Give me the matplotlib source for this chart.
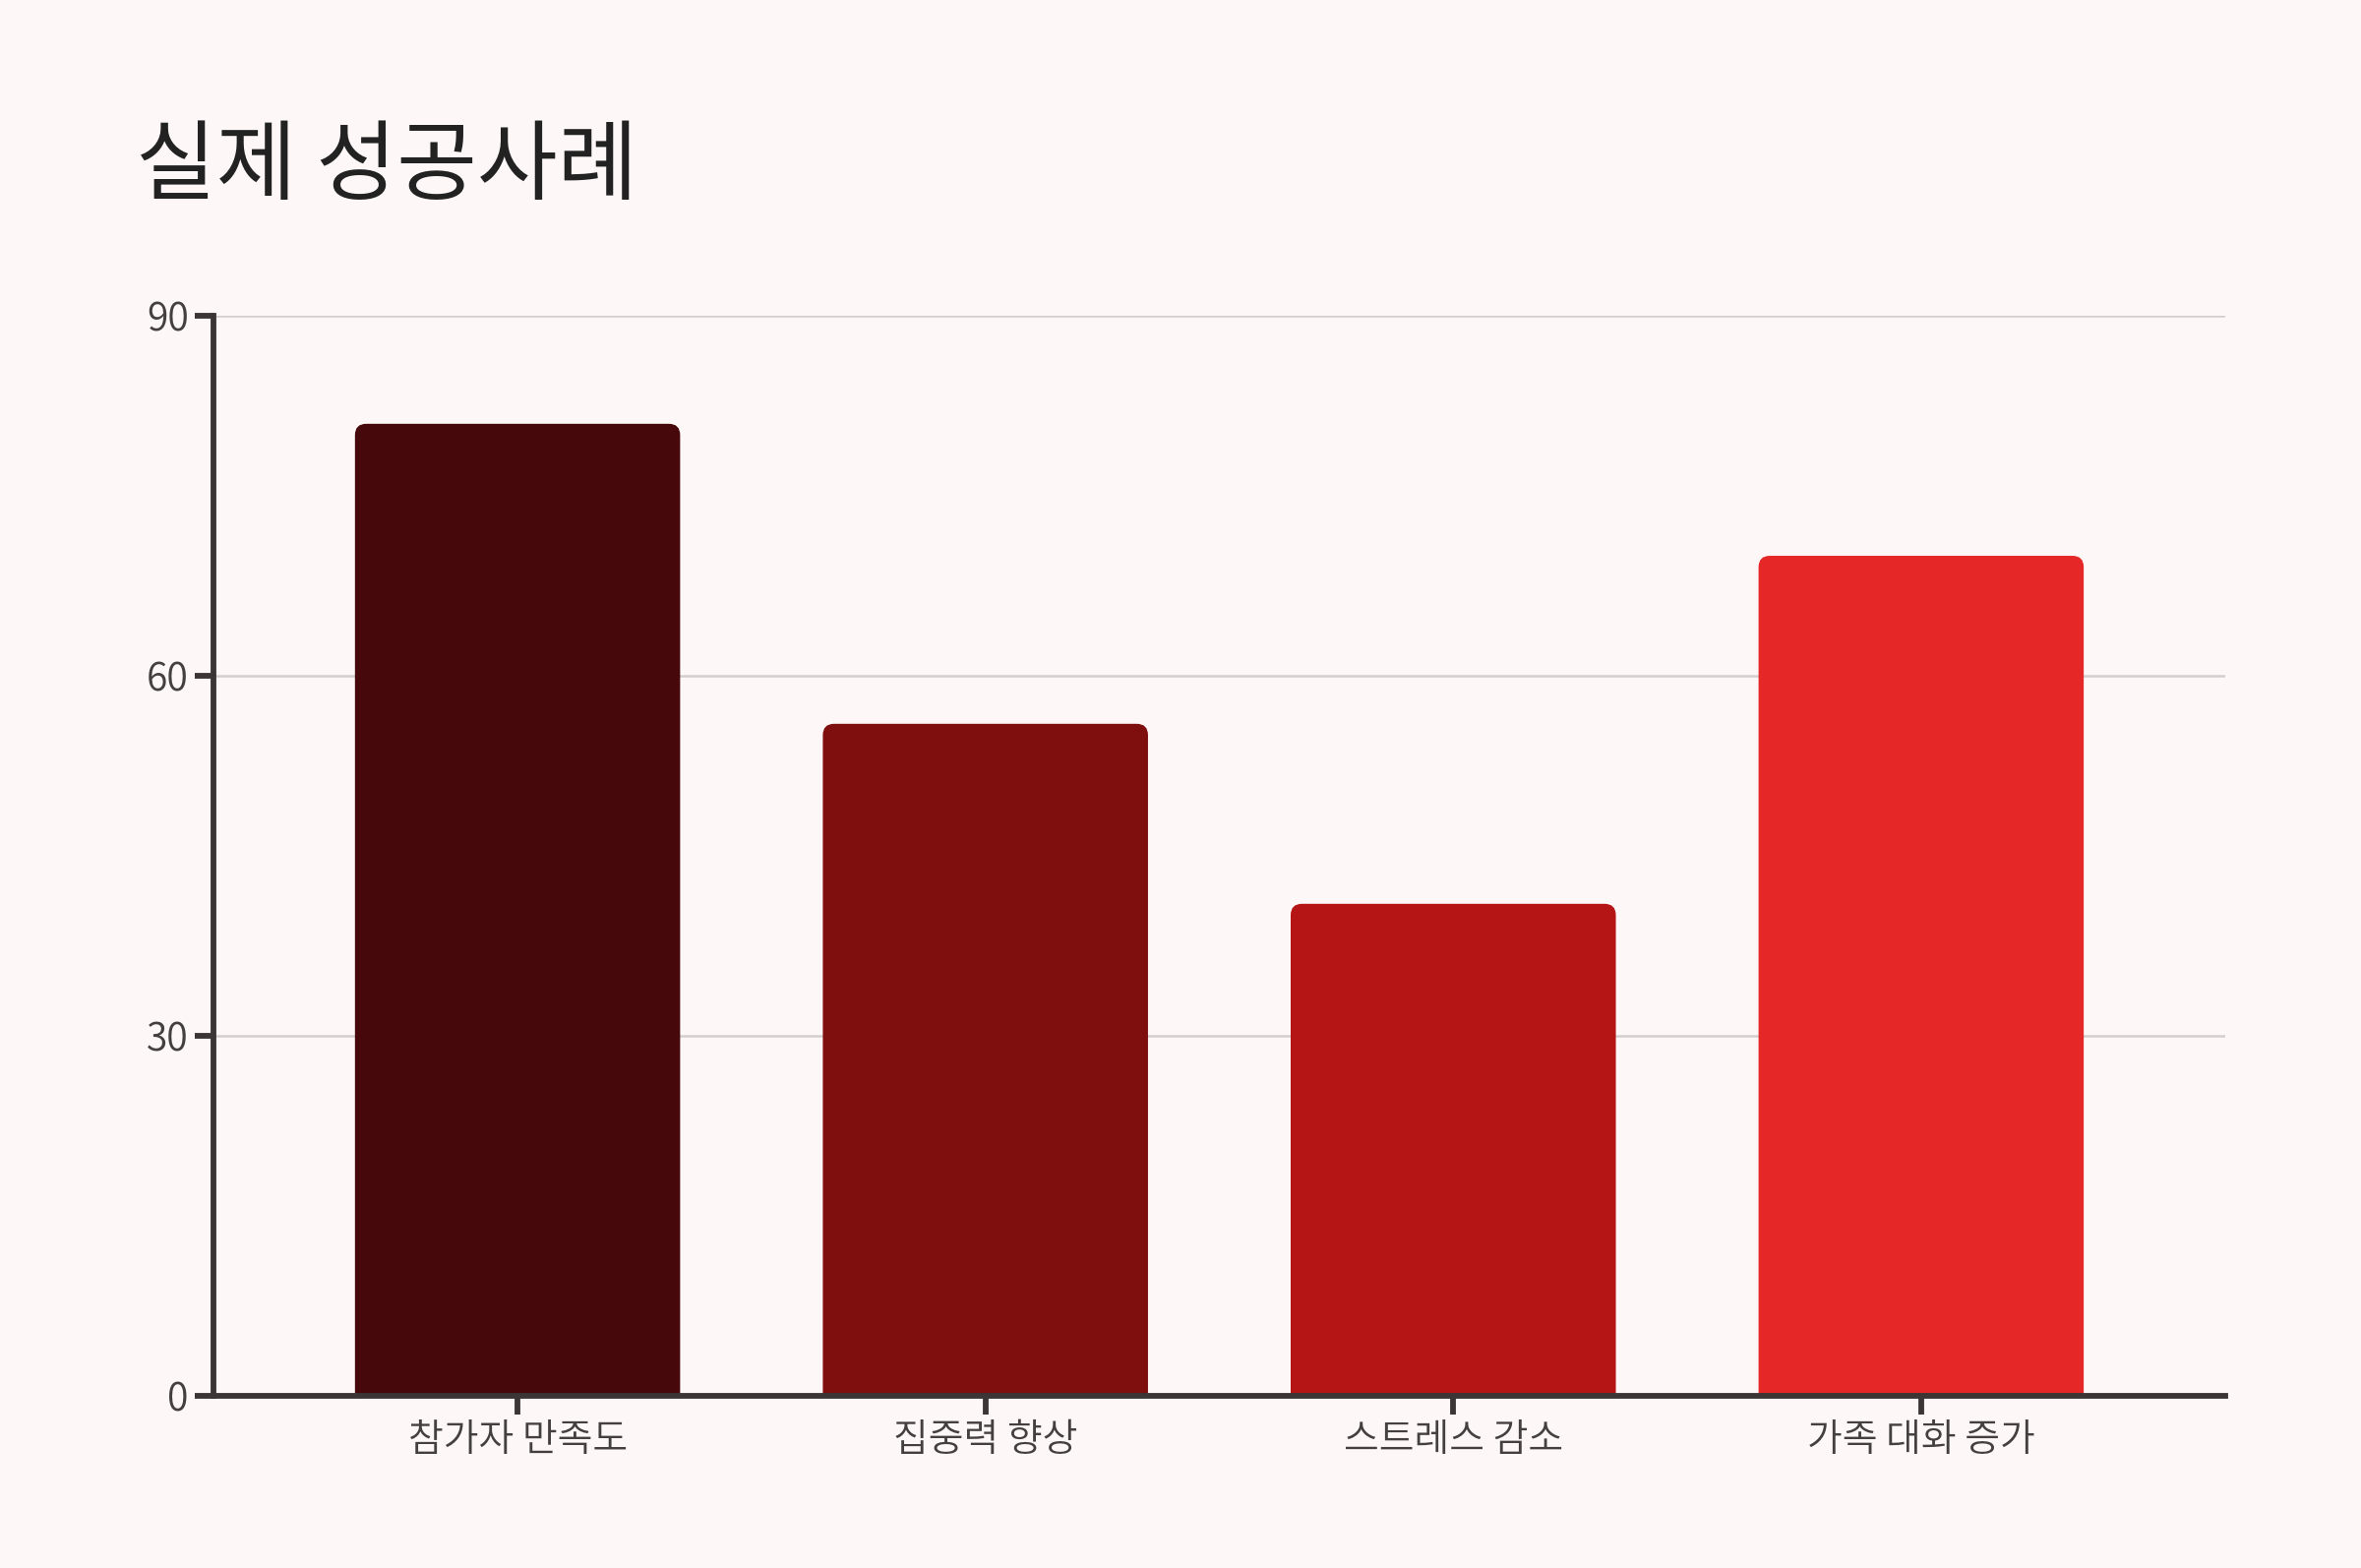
import matplotlib
matplotlib.use("Agg")
import matplotlib.pyplot as plt
from matplotlib.patches import FancyBboxPatch
from matplotlib import font_manager as fm

plt.rcParams['font.family'] = ['Noto Sans CJK KR', 'DejaVu Sans']

categories = ["참가자 만족도", "집중력 향상", "스트레스 감소", "가족 대화 증가"]
values = [81, 56, 41, 70]
colors = ["#46080a", "#7f0f0f", "#b61516", "#e62727"]
yticks = [0, 30, 60, 90]
title = "실제 성공사례"

bg = "#fdf8f7"
spine_c = "#3b3535"

# pick a light weight CJK font if installed
light_path = None
for f in fm.fontManager.ttflist:
    if f.name.startswith("Noto Sans CJK") and f.weight in (300, 350, "light"):
        light_path = f.fname
        break

fig = plt.figure(figsize=(12, 7.97), dpi=200, facecolor=bg)
ax = fig.add_axes([0.0904, 0.1098, 0.9425 - 0.0904, 0.7986 - 0.1098])
ax.set_facecolor(bg)

x = list(range(len(categories)))
bars = ax.bar(x, values, width=0.695, color=colors)
ax.set_xlim(-0.65, len(categories) - 1 + 0.65)
ax.set_ylim(0, 90)

for b in bars:
    x0, w, h = b.get_x(), b.get_width(), b.get_height()
    c = b.get_facecolor()
    b.set_visible(False)
    p = FancyBboxPatch((x0, -3), w, h + 3,
                       boxstyle="round,pad=0,rounding_size=0.024",
                       mutation_aspect=39, facecolor=c, edgecolor="none",
                       zorder=2)
    ax.add_patch(p)

ax.set_yticks(yticks)
ax.set_xticks(x)
ax.set_xticklabels(categories)
for t in yticks[1:]:
    ax.axhline(t, color="#d2cfce", lw=0.9, zorder=0)

for s in ["top", "right"]:
    ax.spines[s].set_visible(False)
for s in ["left", "bottom"]:
    ax.spines[s].set_color(spine_c)
    ax.spines[s].set_linewidth(2.1)
    ax.spines[s].set_zorder(3)

ax.tick_params(axis="both", direction="out", length=7, width=2.1,
               color=spine_c, labelcolor="#444040", labelsize=14)
ax.tick_params(axis="x", pad=2)
ax.tick_params(axis="y", pad=2)
if light_path:
    lp = fm.FontProperties(fname=light_path, size=14)
    for lab in ax.get_yticklabels() + ax.get_xticklabels():
        lab.set_fontproperties(lp)
else:
    for lab in ax.get_yticklabels():
        lab.set_fontweight("light")

fig.text(0.0575, 0.877, title, fontsize=32, color="#222222", va="baseline", ha="left")

fig.savefig("out.png", dpi=200, facecolor=bg)
